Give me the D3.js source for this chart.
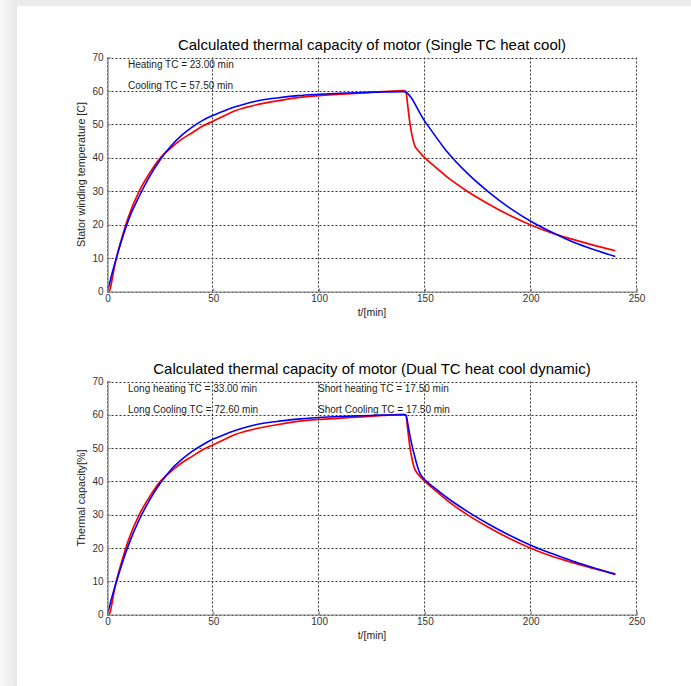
<!DOCTYPE html>
<html>
<head>
<meta charset="utf-8">
<script src="https://cdn.jsdelivr.net/npm/d3@7/dist/d3.min.js"></script>
<style>
  body { margin: 0; background: #ffffff; }
  svg { display: block; }
  text { font-family: "Liberation Sans", Arial, sans-serif; }
</style>
</head>
<body>
<svg id="fig" width="691" height="686"></svg>
<script>
// Axis ticks
const xTicks = [0, 50, 100, 150, 200, 250];
const yTicks = [0, 10, 20, 30, 40, 50, 60, 70];

// Measured winding temperature (red), shared by both panels
const measuredTime = [0, 1, 2, 3, 5, 7, 10, 15, 20, 25, 30, 35, 40, 45, 50, 55, 60, 65, 70, 80, 90, 100, 110, 120, 130, 140, 141, 142, 143, 144, 145, 147, 150, 155, 160, 170, 180, 190, 200, 210, 220, 230, 240];
const measuredValue = [0, 0.3, 3, 6.5, 12, 16.5, 22.5, 30, 35.5, 40, 43, 45.5, 47.5, 49.5, 51, 52.5, 54, 55, 55.8, 57, 58, 58.6, 59, 59.4, 59.8, 60.1, 59.8, 55, 50, 46.5, 44, 42, 40, 37.2, 34.5, 30, 26.2, 22.8, 19.9, 17.5, 15.6, 13.8, 12.2];

// Single TC model (blue, upper panel)
const singleTime = [0, 2, 5, 10, 15, 20, 25, 30, 35, 40, 45, 50, 55, 60, 65, 70, 80, 90, 100, 110, 120, 130, 140, 150, 160, 170, 180, 190, 200, 210, 220, 230, 240];
const singleValue = [0, 5, 11.8, 21.5, 28.5, 34.5, 39.5, 43.5, 46.7, 49.2, 51.2, 52.7, 54, 55.2, 56.1, 56.9, 57.9, 58.6, 59, 59.3, 59.5, 59.7, 59.8, 50.9, 42.2, 35.4, 29.8, 25, 21, 17.7, 14.8, 12.5, 10.5];

// Dual TC model (blue, lower panel)
const dualTime = [0, 2, 5, 10, 15, 20, 25, 30, 35, 40, 45, 50, 55, 60, 65, 70, 80, 90, 100, 110, 120, 130, 140, 141, 142, 143, 144, 145, 146, 147, 148, 150, 155, 160, 170, 180, 190, 200, 210, 220, 230, 240];
const dualValue = [0, 5, 11.5, 21, 28.5, 34.5, 39.5, 43.5, 46.5, 49, 51, 52.7, 54, 55.2, 56.2, 57, 58, 58.7, 59.2, 59.5, 59.7, 59.9, 60, 60, 57, 53.5, 50.5, 48, 45.5, 43.5, 42, 40.5, 37.8, 35.3, 31, 27.2, 23.8, 20.8, 18.3, 16, 14, 12];

// Panel texts
const titles = ["Calculated thermal capacity of motor (Single TC heat cool)", "Calculated thermal capacity of motor (Dual TC heat cool dynamic)"];
const yLabels = ["Stator winding temperature [C]", "Thermal capacity[%]"];
const xLabel = "t/[min]";
const notesTop = ["Heating TC = 23.00 min", "Cooling TC = 57.50 min"];
const notesBottomLeft = ["Long heating TC = 33.00 min", "Long Cooling TC = 72.60 min"];
const notesBottomRight = ["Short heating TC = 17.50 min", "Short Cooling TC = 17.50 min"];

const svg = d3.select("#fig");

// Window frame around the figure
const defs = svg.append("defs");
const lg = defs.append("linearGradient").attr("id", "edgeL").attr("x1", 0).attr("x2", 1).attr("y1", 0).attr("y2", 0);
lg.append("stop").attr("offset", "0%").attr("stop-color", "#f8f8f8");
lg.append("stop").attr("offset", "75%").attr("stop-color", "#eeeeee");
lg.append("stop").attr("offset", "100%").attr("stop-color", "#e6e6e6");
svg.append("rect").attr("x", 0).attr("y", 0).attr("width", 691).attr("height", 6).attr("fill", "#ebebeb");
svg.append("rect").attr("x", 0).attr("y", 0).attr("width", 17).attr("height", 686).attr("fill", "url(#edgeL)");

const left = 107.5, right = 636.5;
const panels = [
  { top: 57.5, bottom: 291.5, title: titles[0], ylab: yLabels[0], red: [measuredTime, measuredValue], blue: [singleTime, singleValue],
    notes: [{ x: 128, list: notesTop }] },
  { top: 381.5, bottom: 614.5, title: titles[1], ylab: yLabels[1], red: [measuredTime, measuredValue], blue: [dualTime, dualValue],
    notes: [{ x: 128, list: notesBottomLeft }, { x: 318, list: notesBottomRight }] }
];

panels.forEach(p => {
  const x = d3.scaleLinear().domain([0, 250]).range([left, right]);
  const y = d3.scaleLinear().domain([0, 70]).range([p.bottom, p.top]);
  const g = svg.append("g");

  // dotted grid
  g.append("g").selectAll("line").data(yTicks).join("line")
    .attr("x1", left).attr("x2", right)
    .attr("y1", d => Math.round(y(d)) + 0.5).attr("y2", d => Math.round(y(d)) + 0.5)
    .attr("stroke", "#333").attr("stroke-width", 1).attr("stroke-dasharray", "2,2");
  g.append("g").selectAll("line").data(xTicks).join("line")
    .attr("x1", d => Math.round(x(d)) - 0.5).attr("x2", d => Math.round(x(d)) - 0.5)
    .attr("y1", p.top).attr("y2", p.bottom)
    .attr("stroke", "#333").attr("stroke-width", 1).attr("stroke-dasharray", "2,2");

  // annotations
  p.notes.forEach(n => {
    n.list.forEach((s, i) => {
      g.append("text").attr("x", n.x).attr("y", p.top + 10 + i * 21)
        .attr("font-size", 10).attr("fill", "#222").text(s);
    });
  });

  // curves
  const line = (ts, vs) => d3.line().curve(d3.curveMonotoneX)
    .x((d, i) => x(ts[i])).y((d, i) => y(vs[i]))(ts);
  g.append("path").attr("d", line(p.red[0], p.red[1]))
    .attr("fill", "none").attr("stroke", "#ff0000").attr("stroke-width", 1.7).attr("stroke-linejoin", "round");
  g.append("path").attr("d", line(p.blue[0], p.blue[1]))
    .attr("fill", "none").attr("stroke", "#0000ff").attr("stroke-width", 1.6).attr("stroke-linejoin", "round");

  // axes
  const yAxis = d3.axisLeft(y).tickValues(yTicks).tickSize(-3).tickPadding(4).tickFormat(d3.format("d"));
  const xAxis = d3.axisBottom(x).tickValues(xTicks).tickSize(-3).tickPadding(4).tickFormat(d3.format("d"));
  const ya = g.append("g").attr("transform", `translate(${left},0)`).call(yAxis);
  const xa = g.append("g").attr("transform", `translate(0,${Math.round(p.bottom) - 0.5})`).call(xAxis);
  [ya, xa].forEach(a => {
    a.select(".domain").attr("stroke", "#808080").attr("stroke-width", 1.2);
    a.selectAll(".tick line").attr("stroke", "#808080");
    a.selectAll(".tick text").attr("font-size", 10).attr("fill", "#333")
      .attr("font-family", "\"Liberation Sans\", Arial, sans-serif");
  });
  xa.selectAll(".tick text").attr("dy", "0.6em");

  // labels
  g.append("text").attr("x", (left + right) / 2).attr("y", p.top - 8)
    .attr("text-anchor", "middle").attr("font-size", 15).attr("fill", "#000").text(p.title);
  g.append("text").attr("x", (left + right) / 2).attr("y", p.bottom + 24)
    .attr("text-anchor", "middle").attr("font-size", 10.5).attr("fill", "#222").text(xLabel);
  g.append("text").attr("transform", `translate(85,${(p.top + p.bottom) / 2}) rotate(-90)`)
    .attr("text-anchor", "middle").attr("font-size", 10.7).attr("fill", "#222").text(p.ylab);
});
</script>
</body>
</html>
